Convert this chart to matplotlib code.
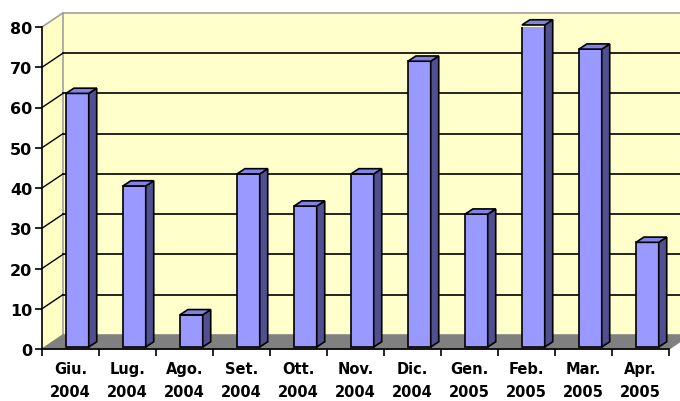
import numpy as np
import matplotlib.pyplot as plt

# monthly values
months = ['Giu.', 'Lug.', 'Ago.', 'Set.', 'Ott.', 'Nov.', 'Dic.', 'Gen.', 'Feb.', 'Mar.', 'Apr.']
years = ['2004', '2004', '2004', '2004', '2004', '2004', '2004', '2005', '2005', '2005', '2005']
values = [63, 40, 8, 43, 35, 43, 71, 33, 80, 74, 26]
y_ticks = [0, 10, 20, 30, 40, 50, 60, 70, 80]

# 3d look (in data units)
DX, DY = 0.368, 3.5          # depth of the walls
BX, BY = 0.12, 0.5           # where the bars sit inside the depth
BW = 0.40                    # bar width
DDX, DDY = 0.14, 1.3         # depth of one bar

wall = '#FFFFCC'
front_c = '#9999FF'
side_c = '#505090'
top_c = '#8383E6'

fig = plt.figure(figsize=(6.8, 4.02), dpi=100)
fig.patch.set_facecolor('white')
ax = fig.add_axes([42/680, 52/402, 627/680, 322/402])
ax.set_xlim(-0.5, 10.5)
ax.set_ylim(0, 80)
ax.patch.set_visible(False)
for s in ['top', 'right']:
    ax.spines[s].set_visible(False)

n = len(months)
x0, x1 = -0.5, n - 0.5
ymax = y_ticks[-1]

# back wall
ax.fill([x0+DX, x1+DX, x1+DX, x0+DX], [DY, DY, ymax+DY, ymax+DY],
        color=wall, zorder=0, clip_on=False)
ax.plot([x0+DX, x1+DX], [ymax+DY, ymax+DY], color='#A0A0A0', lw=1.2, zorder=1, clip_on=False)
# side wall
ax.fill([x0, x0+DX, x0+DX, x0], [0, DY, ymax+DY, ymax], color='#FFFFC4', zorder=0, clip_on=False)
ax.plot([x0+DX, x0+DX], [DY, ymax+DY], color='#A0A0A0', lw=1.2, zorder=1, clip_on=False)
ax.plot([x0, x0+DX], [ymax, ymax+DY], color='#A0A0A0', lw=1.2, zorder=1, clip_on=False)
# floor
ax.fill([x0, x1, x1+DX, x0+DX], [0, 0, DY, DY], color='#808080', zorder=1, clip_on=False)

# gridlines on walls
for v in y_ticks[1:-1]:
    ax.plot([x0+DX, x1+DX], [v+DY, v+DY], color='black', lw=1.2, zorder=1, clip_on=False)
    ax.plot([x0, x0+DX], [v, v+DY], color='black', lw=1, zorder=1, clip_on=False)

# bars
xs = np.arange(n) + BX
ax.bar(xs, values, width=BW, bottom=BY, color=front_c, edgecolor='black', lw=1.2, zorder=3)
for xc, v in zip(xs, values):
    xl, xr = xc - BW/2, xc + BW/2
    top = BY + v
    ax.fill([xr, xr+DDX, xr+DDX, xr], [BY, BY+DDY, top+DDY, top],
            facecolor=side_c, edgecolor='black', lw=1.2, zorder=3, clip_on=False)
    ax.fill([xl, xr, xr+DDX, xl+DDX], [top, top, top+DDY, top+DDY],
            facecolor=top_c, edgecolor='black', lw=1.2, zorder=3, clip_on=False)

# axes
ax.spines['left'].set_linewidth(1.2)
ax.spines['bottom'].set_linewidth(1.2)
ax.spines['left'].set_zorder(4)
ax.spines['bottom'].set_zorder(4)
ax.set_yticks(y_ticks)
ax.set_yticklabels([str(t) for t in y_ticks], fontsize=11.5, fontweight='bold')
ax.set_xticks(np.arange(n + 1) - 0.5, minor=False)
ax.set_xticklabels([])
ax.set_xticks(np.arange(n), minor=True)
ax.set_xticklabels([m + '\n' + y for m, y in zip(months, years)], minor=True,
                   fontsize=10.5, fontweight='bold', linespacing=1.6)
ax.tick_params(axis='x', which='minor', length=0, pad=9)
ax.tick_params(axis='x', which='major', length=5, width=1.2, direction='out')
ax.tick_params(axis='y', length=5, width=1.2, direction='out', pad=2)

plt.savefig('out.png', dpi=100)
